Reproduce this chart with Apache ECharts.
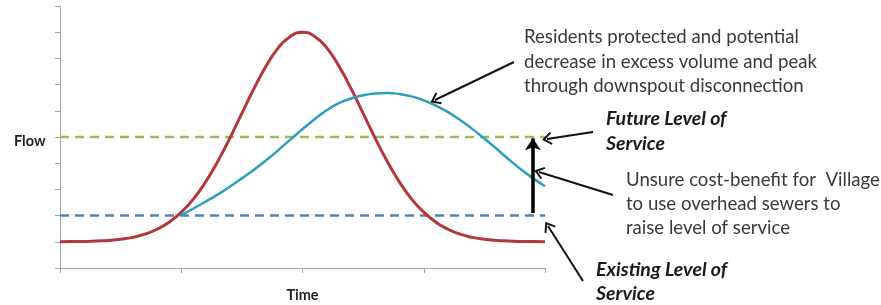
<!DOCTYPE html>
<html><head><meta charset="utf-8">
<script src="https://cdn.jsdelivr.net/npm/echarts@6/dist/echarts.min.js"></script>
<style>html,body{margin:0;padding:0;background:#fff}#c{width:881px;height:305px}</style>
</head><body><div id="c"></div>
<script>
// Time / Flow data
const redTime = [0,0.1,0.2,0.3,0.4,0.5,0.6,0.7,0.8,0.9,1.0,1.1,1.2,1.3,1.4,1.5,1.6,1.7,1.8,1.9,2.0,
                 2.1,2.2,2.3,2.4,2.5,2.6,2.7,2.8,2.9,3.0,3.1,3.2,3.3,3.4,3.5,3.6,3.7,3.8,3.9,4.0];
const redFlow = [1.0,1.01,1.01,1.03,1.05,1.10,1.17,1.29,1.48,1.75,2.13,2.63,3.28,4.06,4.95,5.90,6.85,7.71,8.40,8.84,9.0,
                 8.84,8.40,7.71,6.85,5.90,4.95,4.06,3.28,2.63,2.13,1.75,1.48,1.29,1.17,1.10,1.05,1.03,1.01,1.01,1.0];
const blueTime = [1.0,1.1,1.2,1.3,1.4,1.5,1.6,1.7,1.8,1.9,2.0,2.1,2.2,2.3,2.4,2.5,2.6,2.7,2.8,2.9,3.0,
                  3.1,3.2,3.3,3.4,3.5,3.6,3.7,3.8,3.9,4.0];
const blueFlow = [2.02,2.27,2.53,2.8,3.1,3.42,3.75,4.11,4.5,4.9,5.3,5.68,6.02,6.29,6.47,6.59,6.66,6.68,6.64,6.55,6.4,
                  6.2,5.95,5.65,5.31,4.94,4.55,4.15,3.77,3.43,3.12];
const levelTime = [0, 4];
const futureLevel = 5;
const existingLevel = 2;
const upgradeTime = 3.9;
const upgradeFrom = 2.1, upgradeTo = 4.95;

const zip = (xs, ys) => xs.map((x, i) => [x, ys[i]]);
const chart = echarts.init(document.getElementById('c'), null, {renderer: 'canvas'});
const axisGray = '#A6A6A6';
const chevron = 'path://M6,0 L12,8.4 L10.6,9.6 L6,3.2 L1.4,9.6 L0,8.4 Z';
chart.setOption({
  animation: false,
  grid: {left: 60, right: 336, top: 6, bottom: 37, outerBoundsMode: 'none', containLabel: false},
  xAxis: {
    type: 'value', min: 0, max: 4, interval: 1,
    name: 'Time', nameLocation: 'middle', nameGap: 20,
    nameTextStyle: {fontFamily: 'Lato', fontWeight: 'bold', fontSize: 14.5, color: '#222'},
    axisLine: {lineStyle: {color: axisGray, width: 1}},
    axisTick: {show: true, inside: false, length: 5, lineStyle: {color: axisGray}},
    axisLabel: {show: false}, splitLine: {show: false}
  },
  yAxis: {
    type: 'value', min: 0, max: 10, interval: 1,
    axisLine: {show: true, lineStyle: {color: axisGray, width: 1}},
    axisTick: {show: true, inside: false, length: 5, lineStyle: {color: axisGray}},
    axisLabel: {show: false}, splitLine: {show: false}
  },
  series: [
    {type: 'line', data: zip(levelTime, levelTime.map(() => futureLevel)), showSymbol: false, clip: false,
     lineStyle: {color: '#9BBB59', width: 2.5, type: [9, 6]}, silent: true},
    {type: 'line', data: zip(levelTime, levelTime.map(() => existingLevel)), showSymbol: false, clip: false,
     lineStyle: {color: '#4F81BD', width: 2.5, type: [9, 6]}, silent: true,
     markLine: {
       silent: true, symbol: ['none', 'arrow'], symbolSize: 12,
       label: {show: false},
       lineStyle: {color: '#000', width: 3.5, type: 'solid'},
       data: [[{coord: [upgradeTime, upgradeFrom]}, {coord: [upgradeTime, upgradeTo]}]]
     }},
    {type: 'line', data: zip(redTime, redFlow), smooth: true, showSymbol: false, clip: false,
     lineStyle: {color: '#B3373B', width: 3}, silent: true},
    {type: 'line', data: zip(blueTime, blueFlow), smooth: true, showSymbol: false, clip: false,
     lineStyle: {color: '#2E9FBA', width: 2.5}, silent: true,
     markLine: {
       silent: true, symbol: ['none', chevron], symbolSize: [13, 10],
       label: {show: false}, lineStyle: {color: '#111', width: 2, type: 'solid'},
       data: [
         [{x: 514, y: 62}, {x: 435, y: 100}],
         [{x: 593, y: 132}, {x: 547, y: 139}],
         [{x: 613, y: 195}, {x: 539, y: 172}],
         [{x: 583, y: 281}, {x: 548, y: 226}]
       ]
     }}
  ],
  graphic: [
    {type: 'text', left: 14, top: 134, style: {text: 'Flow', font: 'bold 14.5px Lato', fill: '#222'}},
    {type: 'text', left: 524, top: 25, style: {text: 'Residents protected and potential\ndecrease in excess volume and peak\nthrough downspout disconnection',
      font: '18.6px Lato', lineHeight: 24.5, fill: '#3a3a3a'}},
    {type: 'text', left: 606, top: 106, style: {text: 'Future Level of\nService',
      font: 'italic bold 19.5px Lato', lineHeight: 25, fill: '#1a1a1a'}},
    {type: 'text', left: 626, top: 168, style: {text: 'Unsure cost-benefit for  Village\nto use overhead sewers to\nraise level of service',
      font: '18.6px Lato', lineHeight: 24, fill: '#3a3a3a'}},
    {type: 'text', left: 596, top: 258, style: {text: 'Existing Level of\nService',
      font: 'italic bold 19.5px Lato', lineHeight: 24, fill: '#1a1a1a'}}
  ]
});
</script></body></html>
